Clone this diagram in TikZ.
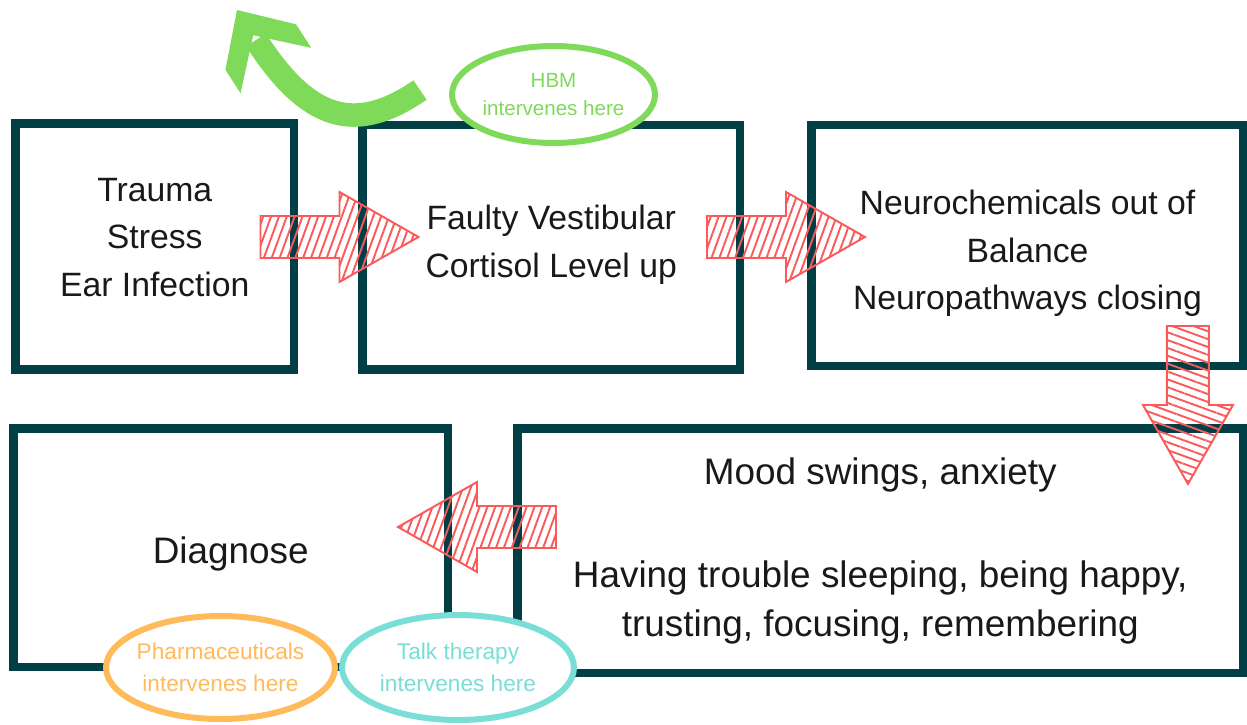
\documentclass[tikz,border=0pt]{standalone}
\usepackage{fontspec}
\setmainfont{Liberation Sans}
\usetikzlibrary{calc,positioning,shapes.geometric,arrows.meta,patterns.meta}
\definecolor{boxteal}{HTML}{013F46}
\definecolor{hbmgreen}{HTML}{80DA5A}
\definecolor{pharmorange}{HTML}{FFBA5A}
\definecolor{talkcyan}{HTML}{78DED6}
\definecolor{hatchred}{HTML}{FA5A5A}
\tikzset{
	>=Stealth,
	stagebox/.style={
		rectangle,
		draw=boxteal, line width=0.17cm},
	boxtext/.style={
		align=center,
		text=black!90,
		font=\fontsize{19.2pt}{27pt}\selectfont},
	bigtext/.style={
		boxtext,
		font=\fontsize{21pt}{27.8pt}\selectfont},
	oval/.style={
		ellipse,
		draw=#1, fill=white, line width=0.12cm,
		text=#1,
		align=center,
		inner sep=0pt, inner xsep=-6pt},
	pics/hatcharrow/.style={
		code={
			\draw[hatchred, line width=1.1pt, line join=miter,
				pattern={Lines[angle=#1,distance=4.2pt,line width=1.1pt]},
				pattern color=hatchred]
				(-79,-21) -- (0,-21) -- (0,-45) -- (79,0) -- (0,45) -- (0,21) -- (-79,21) -- cycle;
		}},
}
\begin{document}
\begin{tikzpicture}[x=0.02cm, y=-0.02cm]
	\useasboundingbox (0,0) rectangle (1247,724);
	% top row
	\node[stagebox, minimum width=5.57cm, minimum height=4.92cm,
		label={[boxtext, yshift=0.18cm]center:Trauma\\Stress\\Ear Infection}] (trauma) at (154.75,246.5) {};
	\node[stagebox, minimum width=7.55cm, minimum height=4.89cm,
		label={[boxtext, yshift=0.05cm]center:Faulty Vestibular\\Cortisol Level up}] (faulty) at (551.25,247.25) {};
	\node[stagebox, minimum width=8.64cm, minimum height=4.82cm,
		label={[boxtext, yshift=-0.16cm]center:Neurochemicals out of\\Balance\\Neuropathways closing}] (neuro) at (1027.5,245.5) {};
	% bottom row
	\node[stagebox, minimum width=8.69cm, minimum height=4.77cm,
		label={[bigtext, yshift=-0.12cm]center:Diagnose}] (diagnose) at (230.75,547.75) {};
	\node[stagebox, minimum width=14.51cm, minimum height=4.89cm,
		label={[bigtext]center:Mood swings, anxiety\\[31pt]Having trouble sleeping, being happy,\\trusting, focusing, remembering}] (mood) at (880.25,550.75) {};
	
	\pic at ($(trauma.east)!.5!(faulty.west)+(11.25,-9.9)$) {hatcharrow=70};
	\pic at ($(faulty.east)!.5!(neuro.west)+(10.25,-9.4)$) {hatcharrow=70};
	\pic[rotate=-90] at ($(neuro.south east)!.5!(mood.north east)+(-59.5,7.75)$) {hatcharrow=-20};
	\pic[rotate=180] at ($(diagnose.east)!.5!(mood.west)+(-5.75,-22.25)$) {hatcharrow=70};
	
	% where each treatment steps in
	\node[oval=hbmgreen, minimum width=4.06cm, minimum height=1.94cm, font=\fontsize{11.7pt}{15.4pt}\selectfont] (hbm) at (553.5,94.5) {HBM\\intervenes here};
	\node[oval=pharmorange, minimum width=4.58cm, minimum height=2.06cm, font=\fontsize{12.9pt}{18pt}\selectfont] (pharma) at (220.5,667.5) {Pharmaceuticals\\intervenes here};
	\node[oval=talkcyan, minimum width=4.64cm, minimum height=2.1cm, font=\fontsize{12.9pt}{18pt}\selectfont] (talk) at (458,667.5) {Talk therapy\\intervenes here};
	
	\coordinate (hbmtail) at ($(hbm.west)+(-29,-4.5)$);
	\coordinate (hbmtip) at (237,10);
	\coordinate (hbmneck) at (256,40);
	\draw[hbmgreen, line width=0.47cm] (hbmtail) .. controls (354,135.6) and (307,119) .. (hbmneck);
	\fill[hbmgreen, shift={(hbmtip)}, rotate=122.7]
		(0,0) -- (-44,42) -- (-72,42) -- (-30,0) -- (-72,-42) -- (-44,-42) -- cycle;
\end{tikzpicture}
\end{document}
